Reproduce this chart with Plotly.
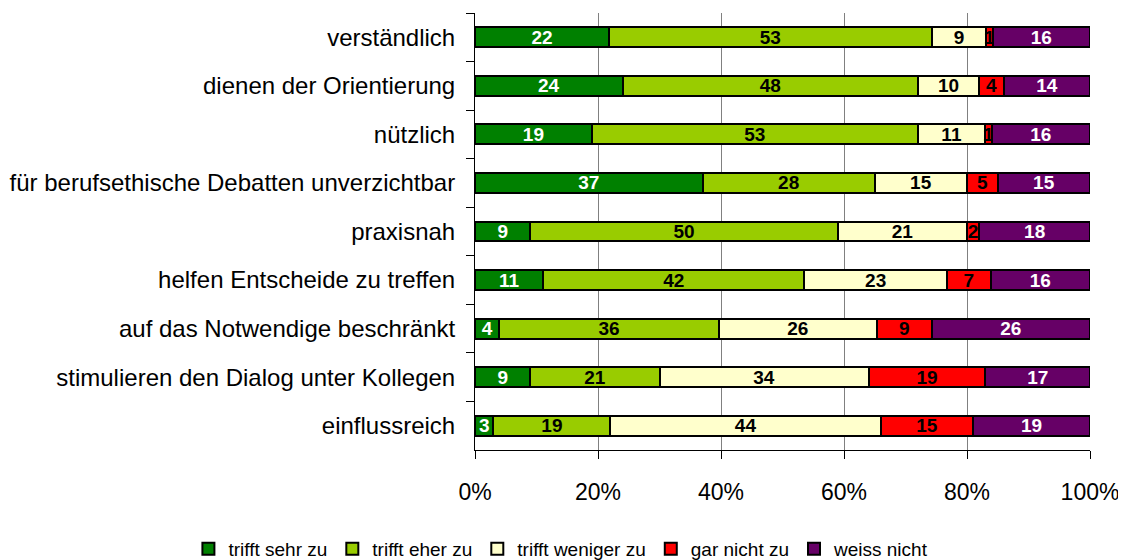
import plotly.graph_objects as go

# Categories (top to bottom as in the chart)
items = [
    "verständlich",
    "dienen der Orientierung",
    "nützlich",
    "für berufsethische Debatten unverzichtbar",
    "praxisnah",
    "helfen Entscheide zu treffen",
    "auf das Notwendige beschränkt",
    "stimulieren den Dialog unter Kollegen",
    "einflussreich",
]

sehr_zu = [22, 24, 19, 37, 9, 11, 4, 9, 3]
eher_zu = [53, 48, 53, 28, 50, 42, 36, 21, 19]
weniger_zu = [9, 10, 11, 15, 21, 23, 26, 34, 44]
gar_nicht_zu = [1, 4, 1, 5, 2, 7, 9, 19, 15]
weiss_nicht = [16, 14, 16, 15, 18, 16, 26, 17, 19]

series = [
    ("trifft sehr zu", sehr_zu, "#008000", "white"),
    ("trifft eher zu", eher_zu, "#99CC00", "black"),
    ("trifft weniger zu", weniger_zu, "#FFFFCC", "black"),
    ("gar nicht zu", gar_nicht_zu, "#FF0000", "black"),
    ("weiss nicht", weiss_nicht, "#660066", "white"),
]

fig = go.Figure()
for name, vals, color, txtcolor in series:
    fig.add_trace(go.Bar(
        y=items, x=vals, name=name, orientation="h",
        marker=dict(color=color, line=dict(color="black", width=2)),
        text=[str(v) for v in vals], textposition="inside", textangle=0,
        insidetextanchor="middle", constraintext="none",
        textfont=dict(family="Arial, Liberation Sans", size=19, color=txtcolor, weight="bold"),
        hoverinfo="skip",
    ))

# page body adds an 8px offset, margins compensate for it;
# figure is a bit taller than the window so the legend box doesn't push the plot up
fig.update_layout(
    barmode="stack", barnorm="percent", bargap=0.59,
    width=1126, height=575,
    margin=dict(l=467, r=44, t=5, b=133),
    paper_bgcolor="white", plot_bgcolor="white",
    font=dict(family="Arial, Liberation Sans", color="black"),
    uniformtext=dict(minsize=19, mode="show"),
    legend=dict(orientation="h", x=-0.466, xanchor="left", y=-0.2265, yanchor="middle",
                font=dict(size=19), traceorder="normal", itemwidth=30),
    showlegend=True,
)
fig.update_xaxes(
    range=[0, 100], tickvals=[0, 20, 40, 60, 80, 100],
    ticktext=["0%", "20%", "40%", "60%", "80%", "100%"],
    showgrid=True, gridcolor="#808080", gridwidth=1,
    showline=True, linecolor="black", linewidth=1,
    ticks="outside", ticklen=8, tickcolor="black", automargin=False,
    tickfont=dict(size=23), ticklabelstandoff=13, zeroline=False,
)
fig.update_yaxes(
    autorange="reversed", categoryorder="array", categoryarray=items,
    showline=True, linecolor="black", linewidth=1, automargin=False,
    ticks="outside", ticklen=8, tickcolor="black", tickson="boundaries",
    tickfont=dict(size=24), ticklabelstandoff=14, showgrid=False,
)

fig.write_html("out.html")
